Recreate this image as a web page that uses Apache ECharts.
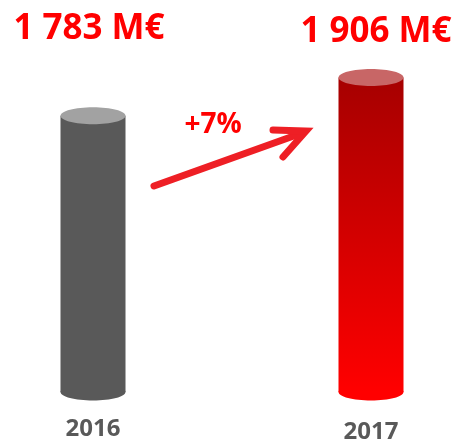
<!DOCTYPE html>
<html>
<head>
<meta charset="utf-8">
<script src="https://cdn.jsdelivr.net/npm/echarts@6/dist/echarts.min.js"></script>
<style>
  html, body { margin: 0; padding: 0; background: #fff; }
  #main { width: 457px; height: 441px; }
</style>
</head>
<body>
<div id="main"></div>
<script>
// data
var years = ['2016', '2017'];
var amounts = [1783, 1906];   // M€
var growthText = '+7%';

var axisMin = 900, axisMax = 2000;

var myChart = echarts.init(document.getElementById('main'));

// 1783 -> "1 783 M€"
function fmt(v) {
  return String(v).replace(/\B(?=(\d{3})+(?!\d))/g, ' ') + ' M€';
}

// cylinder: bottom ellipse + body + top ellipse + value on top of the page
function renderCylinder(params, api) {
  var i = params.dataIndex;
  var top = api.coord([api.value(0), api.value(1)]);
  var base = api.coord([api.value(0), axisMin]);
  var w = 65, rx = w / 2, ry = 8.5;
  var cx = top[0];
  var body, topColor, bottomColor;
  if (i === 0) {
    body = '#595959';
    topColor = '#a2a2a2';
    bottomColor = '#595959';
  } else {
    body = new echarts.graphic.LinearGradient(0, 0, 0, 1, [
      {offset: 0, color: '#a60000'},
      {offset: 1, color: '#ff0000'}
    ]);
    topColor = '#c86666';
    bottomColor = '#ff0000';
  }
  return {
    type: 'group',
    children: [
      {type: 'ellipse', shape: {cx: cx, cy: base[1], rx: rx, ry: ry}, style: {fill: bottomColor}},
      {type: 'rect', shape: {x: cx - rx, y: top[1], width: w, height: base[1] - top[1]}, style: {fill: body}},
      {type: 'ellipse', shape: {cx: cx, cy: top[1], rx: rx, ry: ry}, style: {fill: topColor}},
      {
        type: 'text',
        style: {
          x: cx + (i === 0 ? -4 : 5),
          y: i === 0 ? 29 : 32,
          text: fmt(api.value(1)),
          fill: '#ff0000',
          font: 'bold 35px "Open Sans"',
          textAlign: 'center',
          textVerticalAlign: 'middle'
        }
      }
    ]
  };
}

var option = {
  animation: false,
  grid: {left: 93, right: 86, top: 48, bottom: 49, outerBoundsMode: 'none'},
  xAxis: {
    type: 'category',
    data: years,
    boundaryGap: false,
    axisLine: {show: false},
    axisTick: {show: false},
    axisLabel: {
      color: '#595959',
      fontSize: 24,
      fontWeight: 'bold',
      fontFamily: 'Open Sans',
      margin: 25,
      formatter: function (v, idx) {
        return idx === 1 ? '{b|' + v + '}' : '{a|' + v + '}';
      },
      rich: {
        a: {color: '#595959', fontSize: 24, fontWeight: 'bold', fontFamily: 'Open Sans'},
        b: {color: '#595959', fontSize: 24, fontWeight: 'bold', fontFamily: 'Open Sans', padding: [3, 0, 0, 0]}
      }
    }
  },
  yAxis: {type: 'value', min: axisMin, max: axisMax, show: false},
  series: [{
    type: 'custom',
    clip: false,
    renderItem: renderCylinder,
    data: amounts.map(function (v, i) { return [i, v]; })
  }],
  // growth arrow
  graphic: [
    {
      type: 'polyline',
      shape: {points: [[154, 186], [302, 133]]},
      style: {stroke: '#ee1f25', lineWidth: 7, lineCap: 'round', fill: null}
    },
    {
      type: 'polyline',
      shape: {points: [[273, 130], [306, 131], [283, 157]]},
      style: {stroke: '#ee1f25', lineWidth: 7, lineCap: 'round', lineJoin: 'miter', fill: null}
    },
    {
      type: 'text',
      style: {
        x: 213, y: 125,
        text: growthText,
        fill: '#ff0000',
        font: 'bold 28px "Open Sans"',
        textAlign: 'center',
        textVerticalAlign: 'middle'
      }
    }
  ]
};
myChart.setOption(option);
</script>
</body>
</html>
